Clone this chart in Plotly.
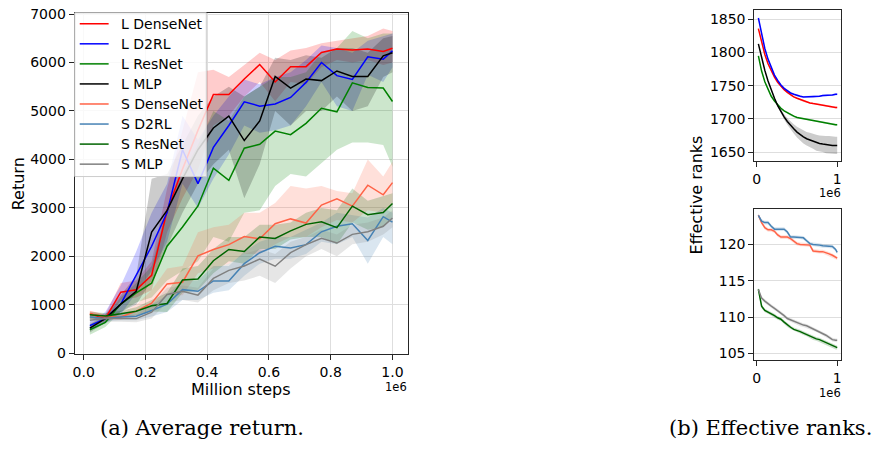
import plotly.graph_objects as go

# ---------------- data: (a) average return ----------------
x_steps = [0.02, 0.07, 0.12, 0.17, 0.22, 0.27, 0.32, 0.37, 0.42, 0.47, 0.52,
           0.57, 0.62, 0.67, 0.72, 0.77, 0.82, 0.87, 0.92, 0.97, 1.0]

l_densenet = [816, 716, 1260, 1310, 1610, 2940, 3800, 4600, 5340, 5340, 5660,
              5960, 5600, 5915, 5915, 6207, 6280, 6260, 6280, 6230, 6295]
l_densenet_hi = [880, 800, 1450, 1500, 1900, 3400, 4600, 5800, 5850, 5700, 5950,
                 6200, 6050, 6250, 6300, 6400, 6450, 6500, 6550, 6700, 6650]
l_densenet_lo = [720, 640, 1100, 1150, 1300, 2500, 3200, 3800, 4700, 4900, 5300,
                 5600, 5200, 5600, 5550, 5900, 6050, 6000, 6050, 5950, 6000]

l_d2rl = [570, 716, 1015, 1612, 2209, 2905, 4200, 3500, 4250, 4700, 5190,
          5100, 5145, 5280, 5590, 6000, 5730, 5650, 6120, 6070, 6240]
l_d2rl_hi = [650, 850, 1400, 2100, 2900, 3500, 4900, 4400, 4900, 5300, 5650,
             5550, 5700, 5800, 6050, 6350, 6300, 6200, 6450, 6550, 6600]
l_d2rl_lo = [480, 620, 800, 1250, 1700, 2300, 3500, 3000, 3600, 4100, 4700,
             4550, 4600, 4700, 5100, 5600, 5100, 5000, 5750, 5600, 5900]

l_resnet = [485, 637, 1015, 1248, 1447, 2209, 2607, 3040, 3820, 3570, 4233,
            4313, 4585, 4512, 4744, 5056, 4983, 5580, 5487, 5474, 5195]
l_resnet_hi = [600, 750, 1150, 1450, 1800, 3000, 3700, 4300, 5000, 4800, 5300,
               5500, 5700, 5700, 5800, 6200, 6300, 6650, 6500, 6600, 6600]
l_resnet_lo = [380, 540, 850, 1050, 1150, 1500, 1700, 1900, 2400, 2300, 2900,
               2950, 3450, 3700, 3650, 3930, 4200, 4350, 4350, 4300, 3850]

l_mlp = [517, 716, 1014, 1280, 2500, 2950, 3600, 4200, 4650, 4895, 4390,
         4795, 5713, 5474, 5660, 5627, 5826, 5713, 5713, 6137, 6203]
l_mlp_hi = [600, 800, 1200, 1600, 3600, 3700, 4300, 4900, 5300, 5500, 5300,
            5500, 6100, 6050, 6150, 6100, 6300, 6300, 6200, 6500, 6550]
l_mlp_lo = [430, 630, 850, 1000, 1500, 2200, 2900, 3500, 3900, 4200, 3200,
            3900, 5000, 4700, 5000, 5000, 5300, 5000, 5100, 5700, 5800]

s_densenet = [815, 750, 750, 869, 1035, 1432, 1466, 2010, 2142, 2242, 2408,
              2362, 2673, 2773, 2687, 3058, 3190, 3037, 3468, 3270, 3522]
s_densenet_hi = [870, 800, 830, 1000, 1300, 1750, 1800, 2500, 2600, 2650, 2900,
                 2900, 3100, 3450, 3400, 3450, 3350, 3300, 4000, 3650, 3950]
s_densenet_lo = [720, 700, 690, 780, 900, 1200, 1200, 1650, 1750, 1850, 2050,
                 2050, 2250, 2400, 2400, 2600, 2750, 2700, 2950, 2900, 3100]

s_d2rl = [750, 716, 750, 763, 882, 1014, 1313, 1280, 1492, 1492, 1850,
          2076, 2209, 2175, 2242, 2507, 2620, 2673, 2328, 2819, 2706]
s_d2rl_hi = [800, 780, 820, 850, 1000, 1200, 1500, 1500, 1800, 1800, 2100,
             2300, 2400, 2400, 2550, 2700, 2900, 2850, 2800, 3000, 2900]
s_d2rl_lo = [690, 660, 680, 680, 760, 850, 1100, 1100, 1250, 1300, 1600,
             1850, 1950, 1950, 2050, 2300, 2250, 2400, 1850, 2400, 2250]

s_resnet = [796, 770, 816, 869, 981, 1028, 1512, 1532, 1910, 2142, 2100,
            2400, 2370, 2525, 2660, 2713, 2593, 3037, 2860, 2905, 3090]
s_resnet_hi = [850, 830, 880, 950, 1100, 1250, 1750, 1800, 2150, 2400, 2400,
               2650, 2650, 2700, 2900, 3000, 2950, 3400, 3150, 3250, 3300]
s_resnet_lo = [700, 700, 740, 780, 860, 850, 1250, 1300, 1650, 1900, 1850,
               2150, 2150, 2350, 2400, 2400, 2250, 2700, 2550, 2600, 2800]

s_mlp = [683, 716, 716, 716, 849, 1214, 1280, 1200, 1545, 1711, 1800,
         1943, 1797, 2076, 2242, 2375, 2275, 2454, 2507, 2620, 2793]
s_mlp_hi = [760, 780, 790, 800, 1000, 1350, 1400, 1350, 1750, 1850, 2050,
            2150, 2050, 2300, 2400, 2550, 2450, 2650, 2700, 2800, 2950]
s_mlp_lo = [600, 650, 650, 640, 720, 1050, 1100, 1050, 1300, 1450, 1500,
            1600, 1450, 1750, 2000, 2150, 2000, 2250, 2300, 2450, 2600]

# ---------------- data: (b) effective ranks ----------------
x_rank = [0.02, 0.06, 0.10, 0.14, 0.18, 0.22, 0.26, 0.30, 0.34, 0.38, 0.42, 0.46, 0.50,
          0.54, 0.58, 0.62, 0.66, 0.70, 0.74, 0.78, 0.82, 0.86, 0.90, 0.94, 0.98, 1.0]

rank_l_d2rl = [1852, 1826, 1806, 1790, 1777, 1766, 1758, 1751, 1746, 1742, 1739, 1737, 1735,
               1734, 1733, 1733, 1733, 1733, 1734, 1734, 1735, 1735, 1736, 1736, 1737, 1737]
rank_l_densenet = [1836, 1814, 1797, 1783, 1772, 1763, 1755, 1749, 1744, 1740, 1736, 1733, 1731,
                   1729, 1727, 1726, 1724, 1723, 1722, 1721, 1720, 1719, 1718.5, 1718, 1717, 1717]
rank_l_resnet = [1795, 1772, 1756, 1744, 1734, 1727, 1721, 1716, 1712, 1709, 1706, 1704, 1702,
                 1701, 1700, 1699, 1698, 1697, 1696, 1695, 1694, 1693.5, 1693, 1692, 1691, 1691]
rank_l_mlp = [1813, 1792, 1773, 1757, 1743, 1731, 1720, 1711, 1703, 1696, 1690, 1685, 1680,
              1676, 1673, 1670, 1668, 1666, 1664, 1663, 1662, 1661, 1661, 1660, 1660, 1660]
rank_l_mlp_err = [0.5, 0.5, 1, 1, 1, 1.5, 2, 3, 4, 5, 6, 7, 8,
                  9, 10, 10, 11, 11, 12, 12, 12, 13, 13, 13, 13, 13]
rank_l_err = [1.5] * 26

rank_s_d2rl = [124.0, 123.2, 123.0, 123.0, 122.5, 122.1, 122.1, 122.1, 122.1, 121.7, 121.0, 121.0, 121.0,
               121.0, 120.9, 120.5, 120.1, 120.0, 120.0, 119.9, 119.8, 119.8, 119.8, 119.7, 119.3, 118.9]
rank_s_densenet = [124.0, 123.0, 122.3, 122.0, 122.0, 121.8, 121.3, 121.0, 121.0, 121.0, 120.8, 120.4, 120.1,
                   120.0, 120.0, 120.0, 119.9, 119.1, 119.0, 119.0, 119.0, 118.9, 118.7, 118.5, 118.2, 118.1]
rank_s_mlp = [113.8, 112.6, 112.2, 111.8, 111.5, 111.2, 110.9, 110.6, 110.2, 109.8, 109.6, 109.4, 109.2,
              109.0, 108.9, 108.8, 108.6, 108.4, 108.2, 108.0, 107.8, 107.5, 107.2, 106.9, 106.8, 106.8]
rank_s_resnet = [113.8, 111.5, 110.9, 110.7, 110.5, 110.2, 109.9, 109.7, 109.3, 108.9, 108.6, 108.3, 108.2,
                 108.0, 107.8, 107.6, 107.4, 107.1, 107.0, 106.9, 106.7, 106.5, 106.2, 106.0, 105.8, 105.8]
rank_s_err = [0.25] * 26

names = ["L DenseNet", "L D2RL", "L ResNet", "L MLP",
         "S DenseNet", "S D2RL", "S ResNet", "S MLP"]
colors = ["#ff0000", "#0000ff", "#008000", "#000000",
          "#ff6347", "#4682b4", "#006400", "#808080"]
fills = ["rgba(255,0,0,0.2)", "rgba(0,0,255,0.2)", "rgba(0,128,0,0.2)", "rgba(0,0,0,0.2)",
         "rgba(255,99,71,0.2)", "rgba(70,130,180,0.2)", "rgba(0,100,0,0.2)", "rgba(128,128,128,0.2)"]

ret_means = [l_densenet, l_d2rl, l_resnet, l_mlp, s_densenet, s_d2rl, s_resnet, s_mlp]
ret_hi = [l_densenet_hi, l_d2rl_hi, l_resnet_hi, l_mlp_hi, s_densenet_hi, s_d2rl_hi, s_resnet_hi, s_mlp_hi]
ret_lo = [l_densenet_lo, l_d2rl_lo, l_resnet_lo, l_mlp_lo, s_densenet_lo, s_d2rl_lo, s_resnet_lo, s_mlp_lo]

W, H = 885, 450
def px(v):
    return v / W
def py(v):
    return 1 - v / H

fig = go.Figure()

# bands first (below all lines)
for m, hi, lo, fc in zip(ret_means, ret_hi, ret_lo, fills):
    fig.add_trace(go.Scatter(x=x_steps + x_steps[::-1], y=hi + lo[::-1], fill="toself",
                             fillcolor=fc, line=dict(width=0), mode="lines",
                             showlegend=False, hoverinfo="skip", xaxis="x", yaxis="y"))

top_series = [(rank_l_densenet, rank_l_err, 0), (rank_l_d2rl, rank_l_err, 1),
              (rank_l_resnet, rank_l_err, 2), (rank_l_mlp, rank_l_mlp_err, 3)]
bot_series = [(rank_s_densenet, rank_s_err, 4), (rank_s_d2rl, rank_s_err, 5),
              (rank_s_resnet, rank_s_err, 6), (rank_s_mlp, rank_s_err, 7)]
for series, ax in ((top_series, ("x2", "y2")), (bot_series, ("x3", "y3"))):
    for vals, err, ci in series:
        hi = [v + e for v, e in zip(vals, err)]
        lo = [v - e for v, e in zip(vals, err)]
        fig.add_trace(go.Scatter(x=x_rank + x_rank[::-1], y=hi + lo[::-1], fill="toself",
                                 fillcolor=fills[ci], line=dict(width=0), mode="lines",
                                 showlegend=False, hoverinfo="skip", xaxis=ax[0], yaxis=ax[1]))

for m, name, c in zip(ret_means, names, colors):
    fig.add_trace(go.Scatter(x=x_steps, y=m, mode="lines", name=name, showlegend=False,
                             line=dict(color=c, width=1.5), xaxis="x", yaxis="y"))

for series, ax in ((top_series, ("x2", "y2")), (bot_series, ("x3", "y3"))):
    for vals, err, ci in series:
        fig.add_trace(go.Scatter(x=x_rank, y=vals, mode="lines", showlegend=False,
                                 line=dict(color=colors[ci], width=1.5),
                                 xaxis=ax[0], yaxis=ax[1]))

spine = "#262626"
grid = "#dedede"
tickfont = dict(family="DejaVu Sans", size=14, color="#000000")
common = dict(showline=True, mirror=True, linecolor=spine, linewidth=1.2,
              ticks="outside", ticklen=5, tickcolor=spine, tickwidth=1.2,
              tickfont=tickfont, zeroline=False, ticklabeloverflow="allow")

fig.update_layout(
    width=W, height=H,
    margin=dict(l=0, r=0, t=0, b=0),
    paper_bgcolor="white", plot_bgcolor="white",
    font=dict(family="DejaVu Sans", color="#000000"),
    xaxis=dict(domain=[px(73), px(407)], range=[-0.029, 1.049], anchor="y",
               tickvals=[0, 0.2, 0.4, 0.6, 0.8, 1.0], ticktext=["0.0", "0.2", "0.4", "0.6", "0.8", "1.0"],
               showgrid=True, gridcolor=grid, gridwidth=1.2, **common),
    yaxis=dict(domain=[py(358), py(6)], range=[-12, 7026], anchor="x",
               tickvals=[0, 1000, 2000, 3000, 4000, 5000, 6000, 7000],
               showgrid=True, gridcolor=grid, gridwidth=1.2, **common),
    xaxis2=dict(domain=[px(755), px(842)], range=[-0.029, 1.049], anchor="y2",
                tickvals=[0, 1], ticktext=["0", "1"], showgrid=False, **common),
    yaxis2=dict(domain=[py(159), py(2.7)], range=[1636.4, 1864.6], anchor="x2",
                tickvals=[1650, 1700, 1750, 1800, 1850],
                showgrid=True, gridcolor=grid, gridwidth=1.2, **common),
    xaxis3=dict(domain=[px(755), px(842)], range=[-0.029, 1.049], anchor="y3",
                tickvals=[0, 1], ticktext=["0", "1"], showgrid=False, **common),
    yaxis3=dict(domain=[py(364.3), py(209)], range=[104.1, 124.8], anchor="x3",
                tickvals=[105, 110, 115, 120],
                showgrid=True, gridcolor=grid, gridwidth=1.2, **common),
    showlegend=False,
)

# custom legend box (matplotlib style)
fig.add_shape(type="rect", xref="paper", yref="paper", layer="above",
              x0=px(73), x1=px(205), y0=py(175), y1=py(6),
              fillcolor="rgba(255,255,255,0.8)", line=dict(color="#cccccc", width=1))
for i, (name, c) in enumerate(zip(names, colors)):
    yy = 17.3 + 20.7 * i
    fig.add_shape(type="line", xref="paper", yref="paper", layer="above",
                  x0=px(78), x1=px(107), y0=py(yy), y1=py(yy),
                  line=dict(color=c, width=1.5))
    fig.add_annotation(xref="paper", yref="paper", showarrow=False, text=name,
                       x=px(117), y=py(yy), xanchor="left", yanchor="middle",
                       font=dict(family="DejaVu Sans", size=14, color="#000000"))

annos = [
    dict(text="Return", x=px(16), y=py(182), textangle=-90, font=dict(size=16)),
    dict(text="Million steps", x=px(240), y=py(394.5), font=dict(size=16)),
    dict(text="1e6", x=px(395), y=py(392), font=dict(size=11.5)),
    dict(text="1e6", x=px(831), y=py(192), font=dict(size=11.5)),
    dict(text="1e6", x=px(831), y=py(398), font=dict(size=11.5)),
    dict(text="Effective ranks", x=px(697), y=py(194), textangle=-90, font=dict(size=16)),
    dict(text="(a) Average return.", x=px(201), y=py(435),
         font=dict(family="DejaVu Serif", size=21)),
    dict(text="(b) Effective ranks.", x=px(771), y=py(435),
         font=dict(family="DejaVu Serif", size=21)),
]
for a in annos:
    f = dict(family="DejaVu Sans", color="#000000")
    f.update(a.pop("font"))
    fig.add_annotation(xref="paper", yref="paper", showarrow=False,
                       xanchor="center", yanchor="middle", font=f, **a)

page_fix = (
    "var s=document.createElement('style');"
    "s.innerHTML='html,body{margin:0 !important;padding:0 !important;overflow:hidden !important;}';"
    "document.head.appendChild(s);"
    "var d=document.getElementById('{plot_id}');"
    "d.style.position='absolute';d.style.left='0px';d.style.top='0px';"
)
fig.write_html("out.html", post_script=page_fix)
